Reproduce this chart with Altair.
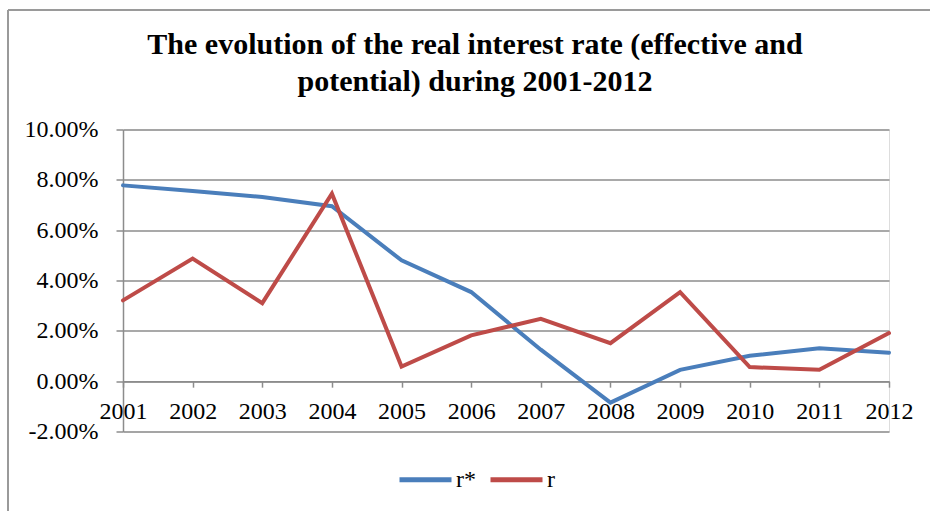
import altair as alt
import pandas as pd

# Years on the category axis
years = ["2001", "2002", "2003", "2004", "2005", "2006",
         "2007", "2008", "2009", "2010", "2011", "2012"]

# Potential real interest rate r* (percent)
r_star = [7.78, 7.56, 7.32, 6.95, 4.80, 3.54, 1.25, -0.85, 0.45, 1.01, 1.31, 1.13]

# Effective real interest rate r (percent)
r_eff = [3.21, 4.87, 3.10, 7.45, 0.58, 1.82, 2.48, 1.51, 3.54, 0.56, 0.45, 1.91]

series_names = ["r*", "r"]
series_colors = ["#4A7EBB", "#BE4B48"]
y_ticks = [-2, 0, 2, 4, 6, 8, 10]

rows = []
for name, vals in zip(series_names, [r_star, r_eff]):
    for yr, v in zip(years, vals):
        rows.append({"year": yr, "value": v, "series": name})
df = pd.DataFrame(rows)

SERIF = "Liberation Serif"
GRID = "#8C8C8C"

W, H = 766, 302
PAD_L, PAD_T = 123, 129.5
zero_offset = -H * 2 / 12  # lift the category axis onto the 0% line

lines = alt.Chart(df).mark_line(strokeWidth=4, strokeCap="round").encode(
    x=alt.X(
        "year:O",
        sort=years,
        scale=alt.Scale(type="point", padding=0),
        axis=alt.Axis(
            title=None, grid=False, offset=zero_offset,
            domainColor=GRID, domainWidth=1.5,
            tickColor=GRID, tickWidth=1.5, tickSize=6,
            labelFont=SERIF, labelFontSize=24, labelColor="#000000",
            labelPadding=12, labelAngle=0, labelOverlap=False, labelFlush=False,
        ),
    ),
    y=alt.Y(
        "value:Q",
        scale=alt.Scale(domain=[-2, 10], nice=False, zero=False),
        axis=alt.Axis(
            title=None, values=y_ticks,
            labelExpr="replace(format(datum.value, '.2f'), '\u2212', '-') + '%'",
            grid=True, gridColor=GRID, gridWidth=1.5,
            domainColor=GRID, domainWidth=1.5,
            tickColor=GRID, tickWidth=1.5, tickSize=7,
            labelFont=SERIF, labelFontSize=24, labelColor="#000000",
            labelPadding=18,
        ),
    ),
    color=alt.Color(
        "series:N",
        sort=series_names,
        scale=alt.Scale(domain=series_names, range=series_colors),
        legend=alt.Legend(
            title=None, orient="none", direction="horizontal",
            legendX=274, legendY=321.5, padding=0,
            symbolType="stroke", symbolSize=2704, symbolStrokeWidth=5,
            labelFont=SERIF, labelFontSize=24, labelColor="#000000",
            labelOffset=2, columnPadding=4,
        ),
    ),
)

# Outer chart frame (left and top edges)
frame_left = alt.Chart(df).mark_rule(color="#9A9A9A", strokeWidth=1.5).encode(
    x=alt.value(8 - PAD_L), y=alt.value(10 - PAD_T), y2=alt.value(600)
)
frame_top = alt.Chart(df).mark_rule(color="#9A9A9A", strokeWidth=1.5).encode(
    x=alt.value(8 - PAD_L), x2=alt.value(1000), y=alt.value(10 - PAD_T)
)

chart = alt.layer(frame_left, frame_top, lines).properties(
    width=W,
    height=H,
    autosize=alt.AutoSizeParams(type="none"),
    padding={"left": PAD_L, "top": PAD_T, "right": 930 - PAD_L - W, "bottom": 511 - PAD_T - H},
    title=alt.Title(
        ["The evolution of the real interest rate (effective and",
         "potential) during 2001-2012"],
        font=SERIF, fontSize=30, fontWeight="bold", color="#000000",
        lineHeight=37, anchor="middle", frame="group", dx=-31, offset=20, dy=108,
    ),
).configure_view(stroke=None).configure(background="#FFFFFF")

chart.save("out.html", embed_options={"renderer": "svg", "actions": False})
